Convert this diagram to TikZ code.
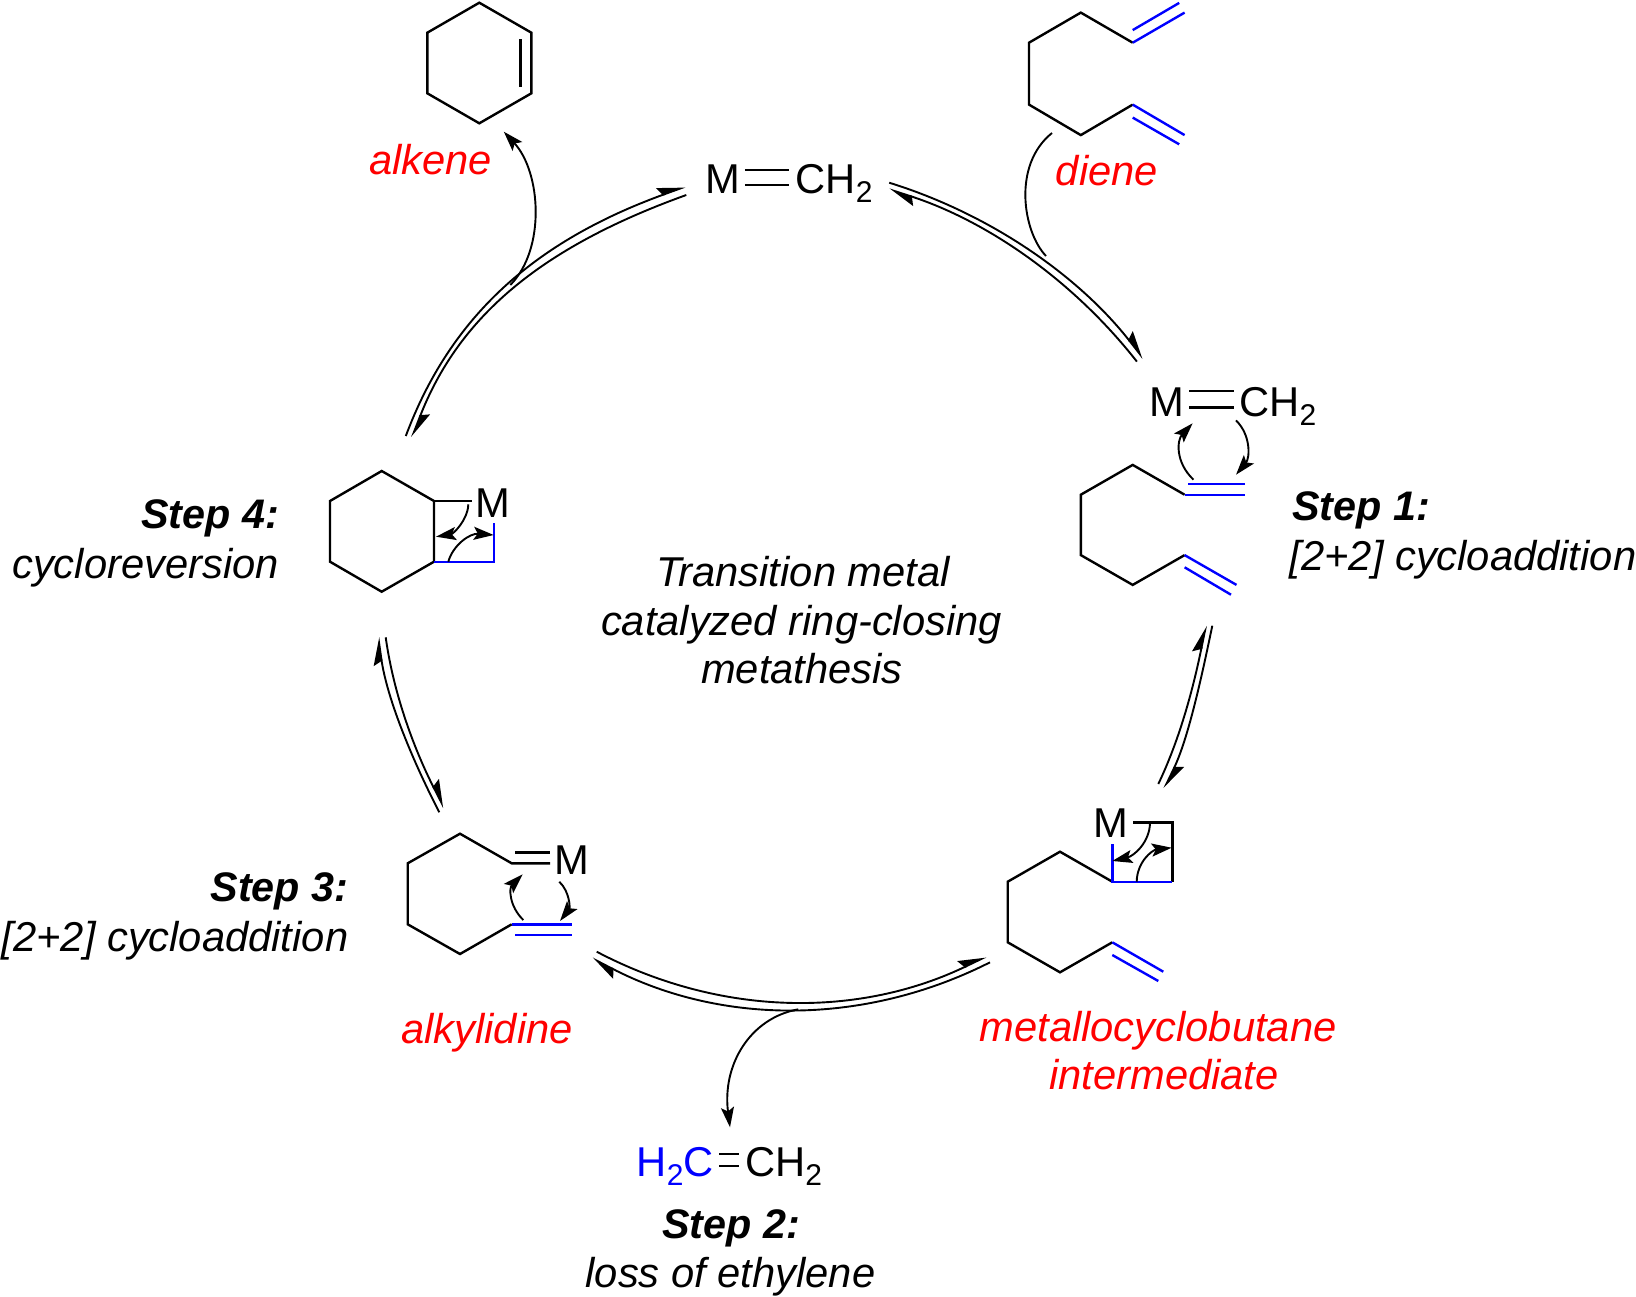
\documentclass[tikz,border=0pt]{standalone}
\usepackage{fontspec}
\setmainfont{Liberation Sans}
\usetikzlibrary{arrows.meta}
\definecolor{chemblue}{HTML}{0000FF}
\definecolor{chemred}{HTML}{FF0000}
\newcommand{\subtwo}{\raisebox{-9pt}{\fontsize{30}{30}\selectfont 2}}
\tikzset{
  bond/.style={line width=2.4pt,line cap=butt,line join=miter,black},
  bluebond/.style={line width=2.4pt,line cap=butt,line join=miter,chemblue},
  equil/.style={line width=1.9pt,black,-{Stealth[harpoon,length=25pt,width=17pt,inset=4pt]}},
  plainarc/.style={line width=1.9pt,black},
  pusharc/.style={line width=1.9pt,black,-{Stealth[length=20pt,width=13pt,inset=4pt]}},
  atom/.style={inner sep=0pt,anchor=base west,font=\fontsize{41.7}{50}\selectfont},
  atomblue/.style={atom,text=chemblue},
  redlabel/.style={inner sep=0pt,anchor=base,text=chemred,font=\fontsize{41.7}{50}\selectfont\itshape},
  steplabel/.style={inner sep=0pt,anchor=base,font=\fontsize{41.3}{50}\selectfont\bfseries\itshape},
  noteline/.style={inner sep=0pt,anchor=base,font=\fontsize{41.7}{50}\selectfont\itshape},
}
\begin{document}
\begin{tikzpicture}[x=1pt,y=-1pt]
\useasboundingbox (0,0) rectangle (1636,1296);

% ---------- cyclohexene
\coordinate (ca) at (479.3,2.7);
\coordinate (cb) at (531.4,32.7);
\coordinate (cc) at (531.4,93.3);
\coordinate (cd) at (479.3,123.3);
\coordinate (ce) at (427.3,93.3);
\coordinate (cf) at (427.3,32.7);
\coordinate (cg) at (520.3,39.3);
\coordinate (ch) at (520.3,86.7);
\draw[bond] (ca)--(cb)--(cc)--(cd)--(ce)--(cf)--cycle;
\draw[bond] (cg)--(ch);
\node[redlabel] (alkene) at (430.5,174.3) {alkene};

% ---------- top M=CH2
\node[atom] (topM) at (705,193.2) {M};
\node[atom] (topCH) at (795.5,193.2) {CH\subtwo};
\coordinate (ta) at (744.9,170);
\coordinate (tb) at (789.3,170);
\coordinate (tc) at (744.9,185);
\coordinate (td) at (789.3,185);
\draw[bond] (ta)--(tb);
\draw[bond] (tc)--(td);

% ---------- diene
\coordinate (da) at (1132.7,42.7);
\coordinate (db) at (1080.8,12.6);
\coordinate (dc) at (1029,42.7);
\coordinate (dd) at (1029,104.6);
\coordinate (de) at (1080.8,135.1);
\coordinate (df) at (1132.7,104.6);
\coordinate (dg) at (1184.6,12.6);
\coordinate (dh) at (1132.7,30.1);
\coordinate (di) at (1179.2,2.9);
\coordinate (dj) at (1184.6,135.1);
\coordinate (dk) at (1132.7,117.6);
\coordinate (dl) at (1179.2,144.3);
\draw[bond] (da)--(db)--(dc)--(dd)--(de)--(df);
\draw[bluebond] (da)--(dg);
\draw[bluebond] (dh)--(di);
\draw[bluebond] (df)--(dj);
\draw[bluebond] (dk)--(dl);
\node[redlabel] (diene) at (1107,185.3) {diene};

% ---------- step 1 structure
\node[atom] (oneM) at (1149.4,416) {M};
\node[atom] (oneCH) at (1239.3,416) {CH\subtwo};
\coordinate (oa) at (1189.2,391);
\coordinate (ob) at (1234,391);
\coordinate (oc) at (1189.2,407.3);
\coordinate (od) at (1234,407.3);
\draw[bond] (oa)--(ob);
\draw[bond] (oc)--(od);
\coordinate (pa) at (1184.6,494.7);
\coordinate (pb) at (1132.7,464.9);
\coordinate (pc) at (1080.8,494.7);
\coordinate (pd) at (1080.8,555.1);
\coordinate (pe) at (1132.7,584.9);
\coordinate (pf) at (1184.6,555.1);
\coordinate (pg) at (1244.9,494.7);
\coordinate (ph) at (1188,484.1);
\coordinate (pi) at (1244.9,484.1);
\coordinate (pj) at (1236.5,584.9);
\coordinate (pk) at (1184.6,567.3);
\coordinate (pl) at (1231,594.7);
\draw[bond] (pa)--(pb)--(pc)--(pd)--(pe)--(pf);
\draw[bluebond] (pa)--(pg);
\draw[bluebond] (ph)--(pi);
\draw[bluebond] (pf)--(pj);
\draw[bluebond] (pk)--(pl);
\coordinate (qa) at (1193.4,479.6);
\coordinate (qb) at (1192.6,423.3);
\coordinate (qc) at (1236,420.4);
\coordinate (qd) at (1236,474.7);
\draw[pusharc] (qa) .. controls (1175,462) and (1177,440) .. (qb);
\draw[pusharc] (qc) .. controls (1251,435) and (1250,458) .. (qd);
\node[steplabel] (stepOne) at (1361,520.4) {Step 1:};
\node[noteline] (stepOneB) at (1463,570.4) {[2+2] cycloaddition};

% ---------- metallocyclobutane
\node[atom] (mbM) at (1093.7,837.7) {M};
\coordinate (ma) at (1133.3,822.3);
\coordinate (mb) at (1172.3,822.3);
\coordinate (mc) at (1172.3,881.7);
\coordinate (md) at (1112.3,881.7);
\coordinate (me) at (1112.3,844);
\coordinate (mf) at (1060,851.7);
\coordinate (mg) at (1007.7,881.7);
\coordinate (mh) at (1007.7,942.3);
\coordinate (mi) at (1060,972.3);
\coordinate (mj) at (1112.3,942.3);
\coordinate (mk) at (1163.3,971.7);
\coordinate (ml) at (1112.3,955);
\coordinate (mm) at (1158.3,981);
\draw[bond] (ma)--(mb)--(mc);
\draw[bond] (md)--(mf)--(mg)--(mh)--(mi)--(mj);
\draw[bluebond] (me)--(md)--(mc);
\draw[bluebond] (mj)--(mk);
\draw[bluebond] (ml)--(mm);
\coordinate (na) at (1150,822.3);
\coordinate (nb) at (1112.3,861);
\coordinate (nc) at (1136.7,881.7);
\coordinate (nd) at (1171.7,847.7);
\draw[pusharc] (na) .. controls (1150,842) and (1134,856) .. (nb);
\draw[pusharc] (nc) .. controls (1137,862) and (1152,850) .. (nd);
\node[redlabel] (metalloA) at (1158,1041.5) {metallocyclobutane};
\node[redlabel] (metalloB) at (1164,1089) {intermediate};

% ---------- alkylidene
\node[atom] (alkM) at (554.7,874.3) {M};
\coordinate (aa) at (511.7,863.3);
\coordinate (ab) at (460,833.7);
\coordinate (ac) at (407.7,863.3);
\coordinate (ad) at (407.7,924.3);
\coordinate (ae) at (460,954);
\coordinate (af) at (511.7,924.3);
\coordinate (ag) at (550,863.3);
\coordinate (ah) at (515,852.3);
\coordinate (ai) at (550,852.3);
\coordinate (aj) at (571.7,924.3);
\coordinate (ak) at (515,935);
\coordinate (al) at (571.7,935);
\draw[bond] (ag)--(aa)--(ab)--(ac)--(ad)--(ae)--(af);
\draw[bond] (ah)--(ai);
\draw[bluebond] (af)--(aj);
\draw[bluebond] (ak)--(al);
\coordinate (ba) at (523.3,920);
\coordinate (bb) at (522.7,874.3);
\coordinate (bc) at (559.3,881.7);
\coordinate (bd) at (560,921);
\draw[pusharc] (ba) .. controls (509,906) and (509,888) .. (bb);
\draw[pusharc] (bc) .. controls (570,892) and (570,908) .. (bd);
\node[redlabel] (alkylidine) at (487,1043) {alkylidine};
\node[steplabel,anchor=base east] (stepThree) at (348.5,901) {Step 3:};
\node[noteline,anchor=base east] (stepThreeB) at (348.5,951) {[2+2] cycloaddition};

% ---------- fused ring, step 4
\node[atom] (fusM) at (475.3,517.3) {M};
\coordinate (fa) at (434,501);
\coordinate (fb) at (381.7,471);
\coordinate (fc) at (330,501);
\coordinate (fd) at (330,561.7);
\coordinate (fe) at (381.7,591.7);
\coordinate (ff) at (434,561.7);
\coordinate (fg) at (471.7,501);
\coordinate (fh) at (493.7,561.7);
\coordinate (fi) at (493.7,523.3);
\draw[bond] (fa)--(fb)--(fc)--(fd)--(fe)--(ff)--cycle;
\draw[bond] (fa)--(fg);
\draw[bluebond] (ff)--(fh)--(fi);
\coordinate (ga) at (468.3,504.3);
\coordinate (gb) at (436,536.7);
\coordinate (gc) at (448.3,561.7);
\coordinate (gd) at (493.7,535);
\draw[pusharc] (ga) .. controls (468,520) and (453,534) .. (gb);
\draw[pusharc] (gc) .. controls (453,545) and (470,533) .. (gd);
\node[steplabel,anchor=base east] (stepFour) at (279,528.5) {Step 4:};
\node[noteline,anchor=base east] (stepFourB) at (279,578) {cycloreversion};

% ---------- centre text
\node[noteline] (midA) at (803,586.5) {Transition metal};
\node[noteline] (midB) at (801.5,635) {catalyzed ring-closing};
\node[noteline] (midC) at (802,683) {metathesis};

% ---------- ethylene
\node[atomblue] (ethL) at (636.5,1176.5) {H\subtwo C};
\node[atom] (ethR) at (745,1176.5) {CH\subtwo};
\coordinate (ea) at (719.3,1154);
\coordinate (eb) at (739.3,1154);
\coordinate (ec) at (719.3,1166);
\coordinate (ed) at (739.3,1166);
\draw[bond] (ea)--(eb);
\draw[bond] (ec)--(ed);
\node[steplabel] (stepTwo) at (731,1238) {Step 2:};
\node[noteline] (stepTwoB) at (730.5,1287.5) {loss of ethylene};

% ---------- equilibrium arrows
\coordinate (e1a) at (405.8,436);
\coordinate (e1b) at (685.2,186.7);
\coordinate (e1c) at (686.3,195);
\coordinate (e1d) at (411.9,437.3);
\draw[equil] (e1a) .. controls (450.6,316.1) and (534.5,241.3) .. (e1b);
\draw[equil] (e1c) .. controls (537.5,248.5) and (457.9,319) .. (e1d);

\coordinate (e2a) at (889.2,182.7);
\coordinate (e2b) at (1143.2,358.4);
\coordinate (e2c) at (1136.9,361.6);
\coordinate (e2d) at (889.2,189.3);
\draw[equil] (e2a) .. controls (989.2,213.7) and (1078.1,275.1) .. (e2b);
\draw[equil] (e2c) .. controls (1072.5,279.4) and (986,220.5) .. (e2d);

\coordinate (e3a) at (1158.3,784);
\coordinate (e3b) at (1206,625.7);
\coordinate (e3c) at (1212.3,625.7);
\coordinate (e3d) at (1164.3,788.3);
\draw[equil] (e3a) .. controls (1182,734.5) and (1195,679.6) .. (e3b);
\draw[equil] (e3c) .. controls (1201,680) and (1188,739) .. (e3d);

\coordinate (e4a) at (596.7,951.7);
\coordinate (e4b) at (986,956.7);
\coordinate (e4c) at (990,962.3);
\coordinate (e4d) at (592.3,958.3);
\draw[equil] (e4a) .. controls (722,1017.5) and (860,1017.5) .. (e4b);
\draw[equil] (e4c) .. controls (865,1025.6) and (722,1025.6) .. (e4d);

\coordinate (e5a) at (439.3,812.3);
\coordinate (e5b) at (378.3,637.3);
\coordinate (e5c) at (385.7,637.3);
\coordinate (e5d) at (444,807.7);
\draw[equil] (e5a) .. controls (410.8,757) and (386.7,697) .. (e5b);
\draw[equil] (e5c) .. controls (394,697) and (416,753) .. (e5d);

% ---------- side arrows
\coordinate (sa) at (510.3,285);
\coordinate (sb) at (503.8,131.7);
\draw[pusharc] (sa) .. controls (546,249) and (541,172) .. (sb);
\coordinate (sc) at (1052,133);
\coordinate (sd) at (1046,256);
\draw[plainarc] (sc) .. controls (1012,165) and (1023,232) .. (sd);
\coordinate (se) at (798.3,1009.3);
\coordinate (sf) at (730,1127.3);
\draw[pusharc] (se) .. controls (750,1018) and (722,1065) .. (sf);
\end{tikzpicture}
\end{document}
